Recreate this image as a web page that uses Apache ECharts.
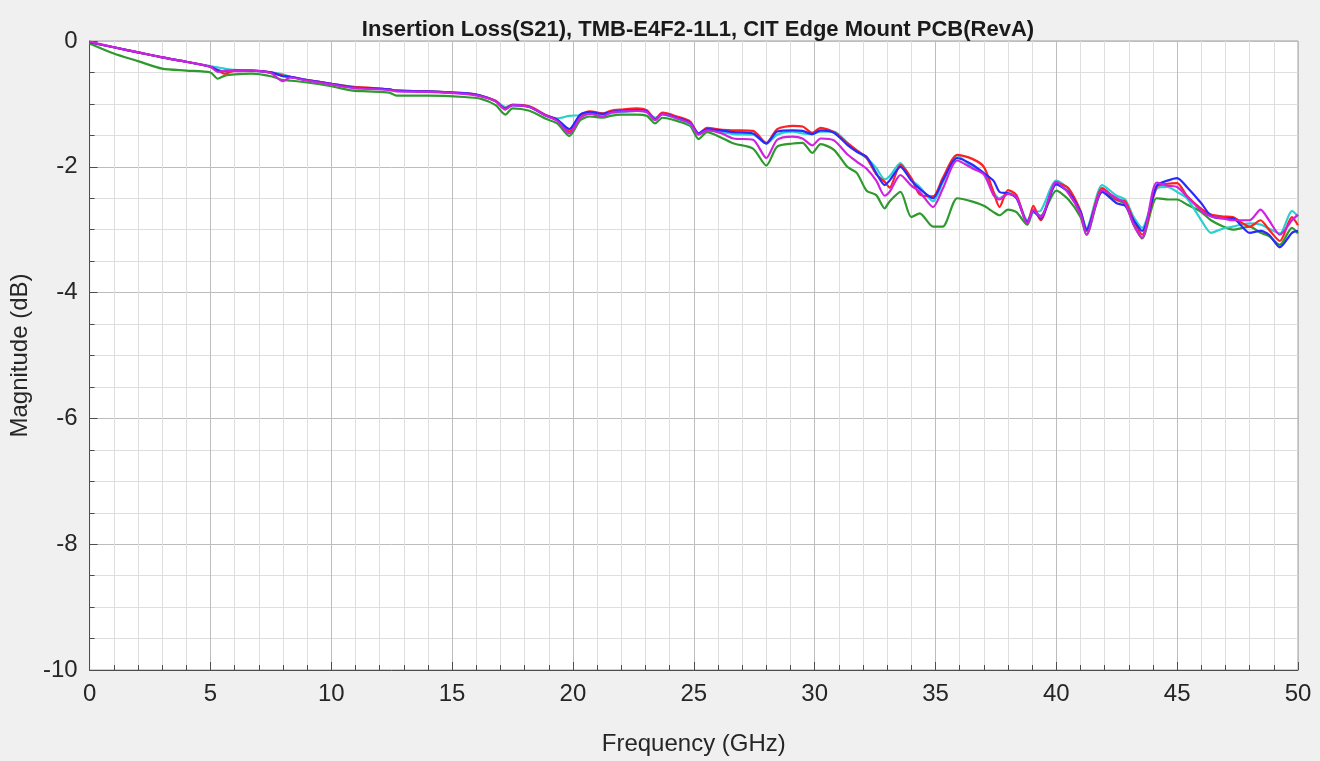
<!DOCTYPE html>
<html>
<head>
<meta charset="utf-8">
<script src="https://cdn.jsdelivr.net/npm/echarts@6/dist/echarts.min.js"></script>
<style>
  html, body { margin: 0; padding: 0; background: #f0f0f0; }
  #main { width: 1320px; height: 761px; }
</style>
</head>
<body>
<div id="main"></div>
<script>
// frequency grid (GHz), shared by all traces
var freq = [0,1,2,3,4,5,5.3,5.6,6,6.7,
  7.5,8,8.3,9,10,10.9,11.5,12.4,12.7,14,
  15.5,16.2,16.8,17.2,17.5,18.2,18.9,19.35,19.85,20.3,
  20.7,21.25,21.55,22,22.65,23.05,23.4,23.7,24.3,24.85,
  25.2,25.55,26.1,26.65,27.45,28,28.45,29.1,29.5,29.9,
  30.25,30.8,31.35,31.75,32.15,32.55,32.9,33.1,33.55,34,
  34.35,34.9,35.3,35.9,36.5,37,37.4,37.65,38,38.35,
  38.8,39.05,39.35,40,40.5,41,41.25,41.9,42.5,42.85,
  43.2,43.55,44.15,44.6,45,45.4,46,46.4,46.9,47.3,
  48,48.45,48.8,49.25,49.75,50];

// S21 magnitude (dB) per trace
var red = [-0.02,-0.10,-0.18,-0.26,-0.33,-0.41,-0.47,-0.52,-0.47,-0.47,
  -0.50,-0.55,-0.57,-0.62,-0.68,-0.73,-0.74,-0.77,-0.79,-0.80,
  -0.83,-0.87,-0.95,-1.07,-1.01,-1.04,-1.18,-1.25,-1.44,-1.18,
  -1.12,-1.15,-1.11,-1.09,-1.07,-1.10,-1.24,-1.14,-1.20,-1.28,
  -1.47,-1.38,-1.41,-1.42,-1.43,-1.62,-1.40,-1.35,-1.36,-1.46,
  -1.38,-1.45,-1.62,-1.74,-1.86,-2.12,-2.24,-2.33,-1.97,-2.18,
  -2.44,-2.47,-2.18,-1.81,-1.87,-2.00,-2.40,-2.64,-2.37,-2.45,
  -2.90,-2.62,-2.85,-2.25,-2.34,-2.70,-3.02,-2.34,-2.52,-2.55,
  -2.85,-3.08,-2.32,-2.27,-2.26,-2.46,-2.67,-2.76,-2.79,-2.80,
  -2.95,-2.85,-3.00,-3.18,-2.80,-2.93];

var blue = [-0.02,-0.10,-0.18,-0.26,-0.33,-0.41,-0.46,-0.48,-0.47,-0.47,
  -0.50,-0.56,-0.57,-0.62,-0.68,-0.74,-0.75,-0.77,-0.79,-0.80,
  -0.83,-0.87,-0.96,-1.08,-1.02,-1.05,-1.19,-1.25,-1.40,-1.17,
  -1.13,-1.16,-1.13,-1.11,-1.10,-1.12,-1.25,-1.16,-1.22,-1.30,
  -1.47,-1.40,-1.42,-1.45,-1.47,-1.63,-1.44,-1.42,-1.43,-1.48,
  -1.42,-1.46,-1.65,-1.76,-1.84,-2.10,-2.29,-2.22,-2.00,-2.22,
  -2.35,-2.50,-2.22,-1.86,-1.96,-2.10,-2.22,-2.40,-2.42,-2.50,
  -2.88,-2.70,-2.82,-2.28,-2.40,-2.72,-3.00,-2.40,-2.58,-2.62,
  -2.85,-3.02,-2.30,-2.22,-2.18,-2.32,-2.58,-2.78,-2.82,-2.82,
  -3.05,-3.02,-3.08,-3.28,-3.05,-3.02];

var magenta = [-0.01,-0.10,-0.18,-0.26,-0.33,-0.41,-0.49,-0.47,-0.48,-0.47,
  -0.51,-0.64,-0.58,-0.63,-0.69,-0.75,-0.76,-0.78,-0.80,-0.81,
  -0.84,-0.88,-0.96,-1.09,-1.02,-1.05,-1.19,-1.27,-1.47,-1.22,
  -1.16,-1.20,-1.14,-1.12,-1.11,-1.13,-1.26,-1.16,-1.23,-1.31,
  -1.49,-1.42,-1.46,-1.55,-1.57,-1.86,-1.57,-1.52,-1.55,-1.66,
  -1.55,-1.58,-1.80,-1.92,-2.03,-2.22,-2.46,-2.40,-2.13,-2.30,
  -2.40,-2.64,-2.35,-1.90,-2.02,-2.12,-2.45,-2.52,-2.43,-2.48,
  -2.90,-2.68,-2.80,-2.24,-2.42,-2.75,-3.08,-2.37,-2.50,-2.58,
  -2.92,-3.13,-2.25,-2.30,-2.32,-2.47,-2.70,-2.79,-2.82,-2.85,
  -2.85,-2.68,-2.85,-3.08,-2.85,-2.76];

var cyan = [-0.02,-0.10,-0.18,-0.26,-0.33,-0.40,-0.42,-0.44,-0.46,-0.47,
  -0.50,-0.53,-0.57,-0.62,-0.68,-0.73,-0.75,-0.77,-0.79,-0.80,
  -0.83,-0.87,-0.95,-1.05,-1.02,-1.05,-1.19,-1.23,-1.19,-1.18,
  -1.15,-1.17,-1.15,-1.13,-1.11,-1.13,-1.22,-1.17,-1.23,-1.32,
  -1.48,-1.41,-1.44,-1.48,-1.49,-1.63,-1.49,-1.44,-1.47,-1.48,
  -1.44,-1.44,-1.62,-1.76,-1.86,-2.02,-2.20,-2.15,-1.94,-2.20,
  -2.32,-2.55,-2.25,-1.82,-2.00,-2.10,-2.40,-2.50,-2.42,-2.47,
  -2.85,-2.72,-2.70,-2.22,-2.35,-2.70,-2.97,-2.29,-2.46,-2.52,
  -2.80,-2.97,-2.35,-2.32,-2.40,-2.50,-2.85,-3.05,-2.98,-2.95,
  -2.90,-2.92,-2.98,-3.06,-2.70,-2.79];

var green = [-0.04,-0.20,-0.32,-0.44,-0.47,-0.50,-0.60,-0.55,-0.53,-0.52,
  -0.56,-0.62,-0.63,-0.66,-0.72,-0.79,-0.80,-0.82,-0.87,-0.87,
  -0.89,-0.92,-1.02,-1.17,-1.07,-1.11,-1.24,-1.31,-1.51,-1.26,
  -1.20,-1.22,-1.19,-1.17,-1.17,-1.19,-1.31,-1.22,-1.27,-1.35,
  -1.56,-1.45,-1.53,-1.63,-1.71,-1.98,-1.68,-1.63,-1.62,-1.78,
  -1.64,-1.73,-2.00,-2.10,-2.38,-2.45,-2.66,-2.55,-2.40,-2.80,
  -2.74,-2.95,-2.95,-2.50,-2.55,-2.62,-2.72,-2.77,-2.68,-2.72,
  -2.92,-2.72,-2.78,-2.38,-2.52,-2.80,-3.08,-2.40,-2.53,-2.60,
  -2.92,-3.14,-2.50,-2.52,-2.52,-2.60,-2.72,-2.85,-2.95,-3.00,
  -2.95,-3.05,-3.10,-3.24,-2.97,-3.06];

var traces = [
  {name: 'green', color: '#2e9a2e', data: green},
  {name: 'cyan', color: '#2ad0d0', data: cyan},
  {name: 'red', color: '#ff2020', data: red},
  {name: 'blue', color: '#2a2aff', data: blue},
  {name: 'magenta', color: '#d020e0', data: magenta}
];

var chart = echarts.init(document.getElementById('main'));

var labelFont = {color: '#262626', fontSize: 24, fontFamily: 'Liberation Sans, Arial, sans-serif'};

var option = {
  backgroundColor: '#f0f0f0',
  animation: false,
  title: {
    text: 'Insertion Loss(S21), TMB-E4F2-1L1, CIT Edge Mount PCB(RevA)',
    left: 693, top: 14, textAlign: 'center',
    textStyle: {fontFamily: 'Liberation Sans Narrow, Arial Narrow, sans-serif', fontWeight: 'bold', fontSize: 22, color: '#1a1a1a'}
  },
  grid: {
    left: 89, right: 22, top: 41, bottom: 91,
    show: true, backgroundColor: '#ffffff', borderColor: '#a0a0a0', borderWidth: 1
  },
  xAxis: {
    type: 'value', min: 0, max: 50, interval: 5,
    name: 'Frequency (GHz)', nameLocation: 'middle', nameGap: 62,
    nameTextStyle: labelFont,
    axisLine: {show: true, onZero: false, lineStyle: {color: '#4d4d4d', width: 1}},
    axisTick: {show: true, inside: true, length: 8, lineStyle: {color: '#4d4d4d'}},
    minorTick: {show: true, splitNumber: 5, length: 5, lineStyle: {color: '#4d4d4d'}},
    axisLabel: Object.assign({margin: 12}, labelFont),
    splitLine: {show: true, lineStyle: {color: '#bdbdbd', width: 1}},
    minorSplitLine: {show: true, lineStyle: {color: '#dedede', width: 1}}
  },
  yAxis: {
    type: 'value', min: -10, max: 0, interval: 2,
    name: 'Magnitude (dB)', nameLocation: 'middle', nameGap: 47,
    nameTextStyle: labelFont,
    axisLine: {show: true, onZero: false, lineStyle: {color: '#4d4d4d', width: 1}},
    axisTick: {show: true, inside: true, length: 8, lineStyle: {color: '#4d4d4d'}},
    minorTick: {show: true, splitNumber: 4, length: 5, lineStyle: {color: '#4d4d4d'}},
    axisLabel: Object.assign({margin: 12}, labelFont),
    splitLine: {show: true, lineStyle: {color: '#bdbdbd', width: 1}},
    minorSplitLine: {show: true, lineStyle: {color: '#dedede', width: 1}}
  },
  series: traces.map(function (t) {
    return {
      name: t.name,
      type: 'line',
      showSymbol: false,
      smooth: 0.25,
      lineStyle: {color: t.color, width: 2.2},
      itemStyle: {color: t.color},
      data: freq.map(function (f, i) { return [f, t.data[i]]; })
    };
  })
};

chart.setOption(option);
</script>
</body>
</html>
